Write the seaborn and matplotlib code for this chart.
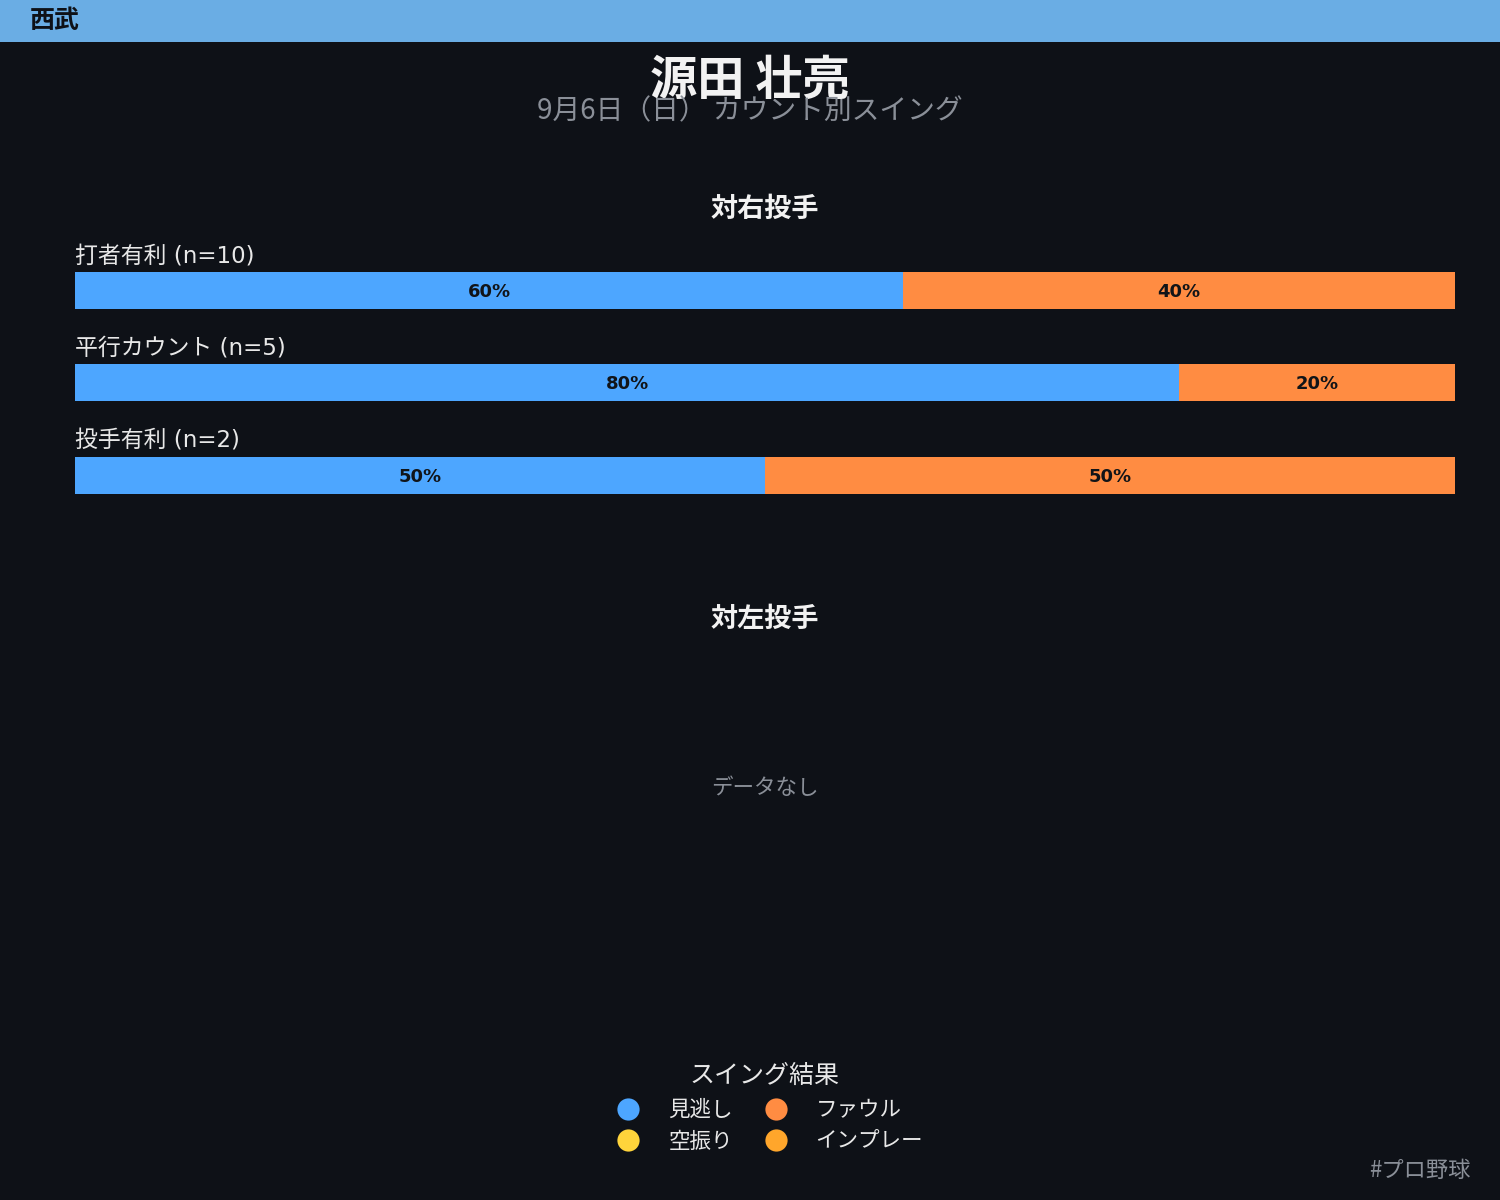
import numpy as np
import pandas as pd
import matplotlib
matplotlib.use('Agg')
import matplotlib.pyplot as plt
import seaborn as sns
from matplotlib.lines import Line2D
from matplotlib.patches import Rectangle

# Data
team = '西武'
player = '源田 壮亮'
subtitle = '9月6日（日） カウント別スイング'
categories = ['打者有利', '平行カウント', '投手有利']
counts_n = [10, 5, 2]
results = ['見逃し', '空振り', 'ファウル', 'インプレー']
miss = [60, 80, 50]
whiff = [0, 0, 0]
foul = [40, 20, 50]
inplay = [0, 0, 0]

BG = '#0e1117'
colors = {'見逃し': '#4da6ff', '空振り': '#ffd43b', 'ファウル': '#ff8c42', 'インプレー': '#ffa62b'}

sns.set_theme(style='dark')
plt.rcParams['font.family'] = ['DejaVu Sans', 'Noto Sans CJK JP']

fig = plt.figure(figsize=(15, 12), dpi=100, facecolor=BG)

# header band
fig.patches.append(Rectangle((0, 1 - 42 / 1200), 1, 42 / 1200, transform=fig.transFigure,
                             facecolor='#6aade4', edgecolor='none', zorder=0))
fig.text(30 / 1500, 1 - 21 / 1200, team, color=BG, fontsize=18, fontweight='bold',
         ha='left', va='center', family=['Noto Sans CJK JP'])

# title + subtitle (baseline-anchored, as they sit tight together in the original)
fig.text(0.5, 1 - 95 / 1200, player, color='#f2f2f2', fontsize=34, fontweight='bold',
         ha='center', va='baseline', family=['Noto Sans CJK JP'])
fig.text(0.5, 1 - 119 / 1200, subtitle, color='#8a8f98', fontsize=20,
         ha='center', va='baseline', family=['Noto Sans CJK JP'])

# right-handed pitchers
fig.text(765 / 1500, 1 - 209 / 1200, '対右投手', color='#f2f2f2', fontsize=19.5, fontweight='bold',
         ha='center', va='center', family=['Noto Sans CJK JP'])

ax = fig.add_axes([75 / 1500, 1 - 502.75 / 1200, 1380 / 1500, 277.5 / 1200])
ax.set_facecolor(BG)

df = pd.DataFrame({'cat': categories, '見逃し': miss, '空振り': whiff,
                   'ファウル': foul, 'インプレー': inplay})
cum = df[results].cumsum(axis=1)

for r in reversed(results):
    sns.barplot(data=df.assign(val=cum[r]), x='val', y='cat', orient='h', color=colors[r],
                saturation=1, width=0.4, ax=ax, order=categories, linewidth=0, edgecolor='none')

for i, cat in enumerate(categories):
    left = 0
    for r in results:
        v = df.loc[i, r]
        if v > 0:
            ax.text(left + v / 2, i + 0.02, f'{v}%', color='#111418', fontsize=13, fontweight='bold',
                    ha='center', va='center')
        left += v
    ax.text(0, i - 0.37, f'{cat} (n={counts_n[i]})', color='#e8e8e8', fontsize=16.5,
            ha='left', va='center')

ax.set_xlim(0, 100)
ax.set_ylim(2.3, -0.7)
ax.axis('off')

# left-handed pitchers
fig.text(765 / 1500, 1 - 619 / 1200, '対左投手', color='#f2f2f2', fontsize=19.5, fontweight='bold',
         ha='center', va='center', family=['Noto Sans CJK JP'])
fig.text(765 / 1500, 1 - 788 / 1200, 'データなし', color='#8a8f98', fontsize=15.5,
         ha='center', va='center', family=['Noto Sans CJK JP'])

# legend
handles = [Line2D([], [], marker='o', linestyle='', markersize=16,
                  markerfacecolor=colors[r], markeredgecolor='none') for r in results]
leg = fig.legend(handles, results, ncol=2, title='スイング結果', loc='upper center',
                 bbox_to_anchor=(0.51, 1 - 1044 / 1200), frameon=False,
                 labelcolor='#e8e8e8', handletextpad=0.85, columnspacing=1.0,
                 labelspacing=0.45, prop={'family': ['Noto Sans CJK JP'], 'size': 15.5},
                 title_fontproperties={'family': ['Noto Sans CJK JP'], 'size': 18})
leg.get_title().set_color('#e8e8e8')

fig.text(1470 / 1500, 1 - 1170 / 1200, '#プロ野球', color='#8a8f98', fontsize=16,
         ha='right', va='center', family=['Noto Sans CJK JP'])

fig.savefig('out.png', dpi=100, facecolor=BG)
